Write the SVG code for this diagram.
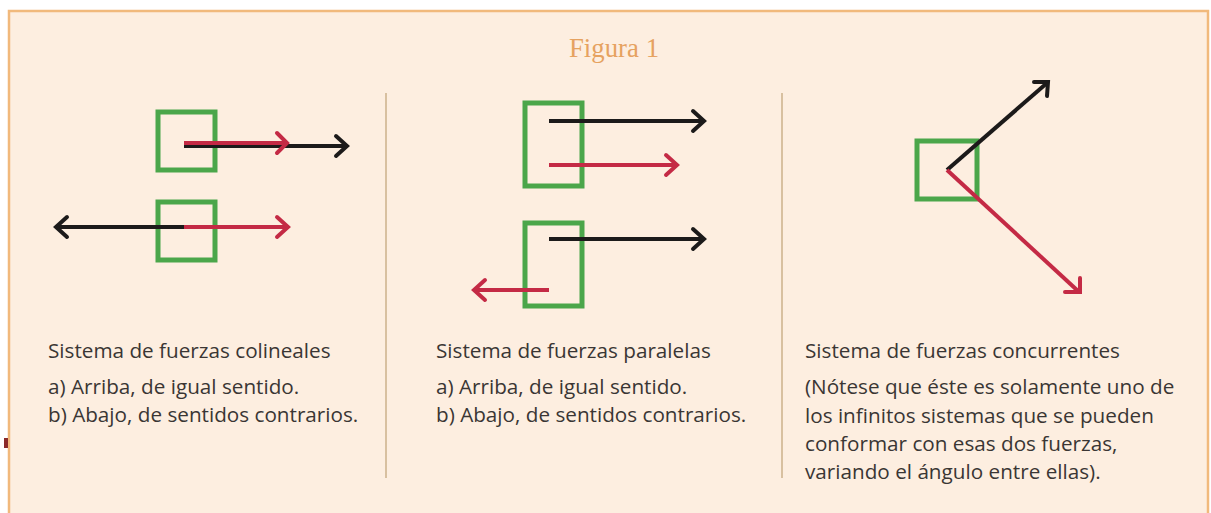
<svg xmlns="http://www.w3.org/2000/svg" width="1211" height="513" viewBox="0 0 1211 513">
<defs>
<style>
.bx{fill:none;stroke:#4ba64a;stroke-width:5}
.bk{stroke:#1c1a1a;stroke-width:4;fill:none;stroke-linecap:butt}
.rd{stroke:#c42a45;stroke-width:4;fill:none}
.hk{stroke:#1c1a1a;stroke-width:4;fill:none;stroke-linecap:round;stroke-linejoin:miter}
.hr{stroke:#c42a45;stroke-width:4;fill:none;stroke-linecap:round;stroke-linejoin:miter}
.t{font-family:"Open Sans","Liberation Sans",sans-serif;font-size:20.7px;fill:#3a3634}
.dv{stroke:#d8c0a0;stroke-width:2}
</style>
</defs>
<rect width="1211" height="513" fill="#ffffff"/>
<rect x="9" y="11" width="1199" height="510" fill="#fdeee0" stroke="#f1b97c" stroke-width="2.5"/>
<rect x="4" y="438" width="4" height="10" fill="#8a2a2a"/>
<text x="614" y="57" text-anchor="middle" font-family="Liberation Serif, serif" font-size="26.8" fill="#e6a260">Figura 1</text>
<line class="dv" x1="386" y1="93" x2="386" y2="478"/>
<line class="dv" x1="782" y1="93" x2="782" y2="478"/>

<g id="colineales">
<rect class="bx" x="158" y="112" width="57" height="58"/>
<rect class="bx" x="158" y="202" width="57" height="58"/>
<line class="bk" x1="184" y1="146" x2="346" y2="146"/>
<polyline class="hk" points="336,136 347,146 336,156"/>
<line class="rd" x1="184" y1="143" x2="286" y2="143" stroke-width="5"/>
<polyline class="hr" points="277,133 287,143 277,153"/>
<line class="bk" x1="184" y1="227" x2="57" y2="227"/>
<polyline class="hk" points="67,217 56,227 67,237"/>
<line class="rd" x1="184" y1="227" x2="287" y2="227"/>
<polyline class="hr" points="277,217 288,227 277,237"/>
</g>

<g id="paralelas">
<rect class="bx" x="525" y="103" width="57" height="83"/>
<rect class="bx" x="525" y="223" width="57" height="83"/>
<line class="bk" x1="549" y1="121" x2="703" y2="121"/>
<polyline class="hk" points="693,111 704,121 693,131"/>
<line class="rd" x1="549" y1="165" x2="676" y2="165"/>
<polyline class="hr" points="666,155 677,165 666,175"/>
<line class="bk" x1="549" y1="239" x2="703" y2="239"/>
<polyline class="hk" points="693,229 704,239 693,249"/>
<line class="rd" x1="549" y1="290" x2="475" y2="290"/>
<polyline class="hr" points="485,280 474,290 485,300"/>
</g>

<g id="concurrentes">
<rect class="bx" x="917" y="141" width="60" height="58"/>
<line class="bk" x1="947" y1="170" x2="1047" y2="83"/>
<polyline class="hk" points="1034,82 1048,82 1047,96"/>
<line class="rd" x1="947" y1="170" x2="1078" y2="291"/>
<polyline class="hr" points="1080,278 1080,292 1065,292"/>
</g>

<g id="textos">
<text class="t" x="48" y="358">Sistema de fuerzas colineales</text>
<text class="t" x="48" y="394">a) Arriba, de igual sentido.</text>
<text class="t" x="48" y="422">b) Abajo, de sentidos contrarios.</text>
<text class="t" x="436" y="358">Sistema de fuerzas paralelas</text>
<text class="t" x="436" y="394">a) Arriba, de igual sentido.</text>
<text class="t" x="436" y="422">b) Abajo, de sentidos contrarios.</text>
<text class="t" x="805" y="358">Sistema de fuerzas concurrentes</text>
<text class="t" x="805" y="394">(Nótese que éste es solamente uno de</text>
<text class="t" x="805" y="422.5">los infinitos sistemas que se pueden</text>
<text class="t" x="805" y="451">conformar con esas dos fuerzas,</text>
<text class="t" x="805" y="479">variando el ángulo entre ellas).</text>
</g>
</svg>
